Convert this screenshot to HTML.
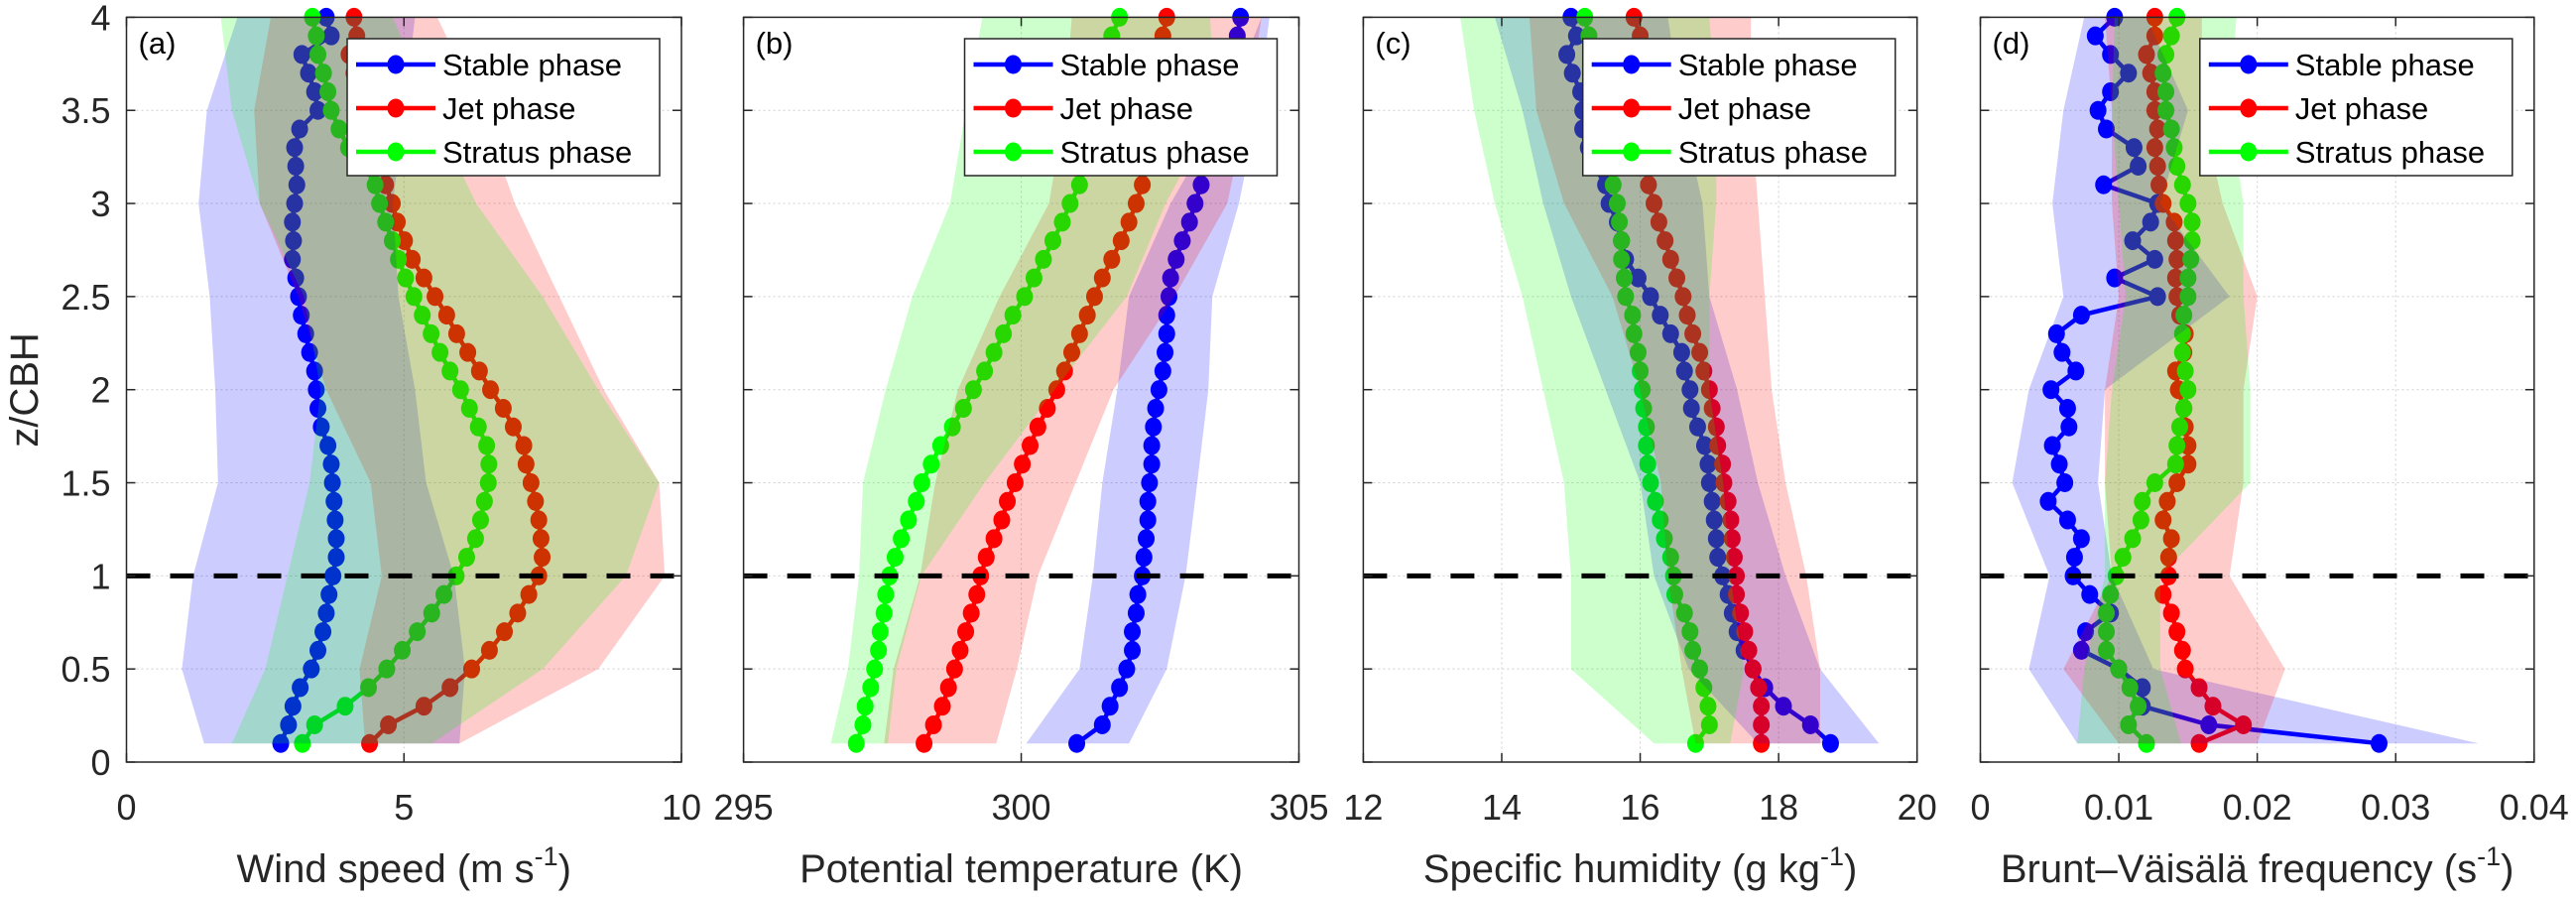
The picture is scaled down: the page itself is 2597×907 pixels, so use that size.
<!DOCTYPE html>
<html><head><meta charset="utf-8"><style>
html,body{margin:0;padding:0;background:#fff;}
svg{display:block;font-family:"Liberation Sans",sans-serif;}
</style></head><body>
<svg id="fig" width="2597" height="907" viewBox="0 0 2597 907" xmlns="http://www.w3.org/2000/svg"></svg>
<script>
// ---- data ----
const zLevels = [0.1,0.2,0.3,0.4,0.5,0.6,0.7,0.8,0.9,1.0,1.1,1.2,1.3,1.4,1.5,1.6,1.7,1.8,1.9,2.0,2.1,2.2,2.3,2.4,2.5,2.6,2.7,2.8,2.9,3.0,3.1,3.2,3.3,3.4,3.5,3.6,3.7,3.8,3.9,4.0];
const bandZ = [0.1,0.5,1.0,1.5,2.0,2.5,3.0,3.5,4.0];
const seriesNames = ["Stable phase","Jet phase","Stratus phase"];

const windStable = [2.78,2.92,3.0,3.13,3.33,3.45,3.54,3.6,3.65,3.72,3.78,3.78,3.76,3.74,3.71,3.69,3.63,3.51,3.45,3.42,3.39,3.3,3.23,3.15,3.1,3.05,2.99,3.01,2.99,3.03,3.07,3.05,3.03,3.12,3.45,3.39,3.28,3.16,3.69,3.6];
const windJet = [4.38,4.72,5.36,5.83,6.22,6.54,6.81,7.05,7.25,7.43,7.49,7.47,7.43,7.37,7.29,7.2,7.16,6.97,6.79,6.56,6.36,6.15,5.95,5.77,5.56,5.36,5.15,5.01,4.88,4.79,4.67,4.6,4.5,4.4,4.3,4.2,4.1,4.01,4.15,4.1];
const windStratus = [3.17,3.39,3.94,4.36,4.69,4.97,5.24,5.5,5.72,5.94,6.13,6.29,6.38,6.45,6.52,6.53,6.49,6.34,6.18,6.02,5.83,5.65,5.49,5.33,5.18,5.03,4.9,4.79,4.67,4.56,4.48,4.3,4.0,3.83,3.69,3.63,3.55,3.45,3.42,3.35];
const windStableLo = [1.4,1.0,1.2,1.65,1.6,1.5,1.3,1.45,2.0];
const windStableHi = [6.0,6.1,5.9,5.4,5.2,4.9,4.8,5.0,5.2];
const windJetLo = [4.3,4.2,4.6,4.4,3.6,3.1,2.4,2.3,2.6];
const windJetHi = [6.0,8.5,9.7,9.6,8.6,7.8,7.0,6.4,5.6];
const windStratusLo = [1.9,2.5,2.9,3.3,3.5,3.2,2.4,1.9,1.7];
const windStratusHi = [5.5,7.5,9.0,9.6,8.5,7.5,6.3,5.5,4.8];

const thStable = [301.0,301.46,301.6,301.77,301.9,302.0,302.0,302.07,302.1,302.18,302.21,302.25,302.28,302.28,302.31,302.35,302.35,302.38,302.42,302.48,302.55,302.59,302.62,302.62,302.66,302.69,302.79,302.9,303.03,303.13,303.24,303.3,303.37,303.48,303.55,303.6,303.65,303.7,303.89,303.95];
const thJet = [298.25,298.42,298.58,298.69,298.8,298.9,299.0,299.1,299.2,299.27,299.37,299.51,299.65,299.75,299.89,300.02,300.16,300.3,300.47,300.64,300.78,300.91,301.05,301.19,301.32,301.46,301.63,301.8,301.94,302.07,302.18,302.25,302.3,302.35,302.4,302.45,302.5,302.52,302.55,302.62];
const thStratus = [297.03,297.15,297.19,297.29,297.36,297.43,297.46,297.53,297.56,297.63,297.73,297.84,297.97,298.11,298.21,298.38,298.55,298.76,298.96,299.14,299.34,299.51,299.68,299.85,300.06,300.23,300.4,300.57,300.74,300.88,301.05,301.15,301.22,301.3,301.36,301.43,301.5,301.56,301.63,301.77];
const thStableLo = [300.09,301.05,301.29,301.46,301.73,301.94,302.69,303.65,304.33];
const thStableHi = [301.94,302.62,302.96,303.17,303.37,303.44,303.92,304.26,304.47];
const thJetLo = [297.53,297.7,298.18,298.45,298.86,299.61,300.5,300.78,300.91];
const thJetHi = [299.55,299.92,300.3,300.98,301.66,302.76,303.71,304.06,304.33];
const thStratusLo = [296.57,296.88,297.08,297.15,297.56,298.04,298.72,299.0,299.3];
const thStratusHi = [297.6,297.75,298.2,299.34,300.6,301.9,302.6,303.5,303.4];

const qStable = [18.75,18.46,18.07,17.8,17.63,17.5,17.4,17.33,17.27,17.19,17.12,17.1,17.07,17.04,17.0,16.98,16.93,16.83,16.74,16.72,16.64,16.6,16.44,16.29,16.15,15.97,15.79,15.73,15.67,15.55,15.5,15.34,15.25,15.17,15.17,15.14,15.02,14.94,15.08,15.0];
const qJet = [17.75,17.75,17.75,17.71,17.63,17.57,17.51,17.45,17.39,17.39,17.36,17.33,17.31,17.27,17.21,17.19,17.12,17.1,17.04,17.0,16.92,16.86,16.76,16.68,16.62,16.53,16.44,16.36,16.27,16.2,16.12,16.1,16.05,16.0,16.0,16.0,15.95,15.95,16.0,15.91];
const qStratus = [16.8,17.0,16.98,16.92,16.86,16.76,16.72,16.64,16.5,16.48,16.44,16.35,16.29,16.22,16.15,16.11,16.09,16.09,16.05,16.03,16.0,15.97,15.91,15.89,15.79,15.77,15.73,15.73,15.7,15.67,15.61,15.55,15.5,15.45,15.4,15.35,15.32,15.3,15.26,15.2];
const qStableLo = [17.7,16.7,16.2,16.0,15.5,15.0,14.6,14.3,13.9];
const qStableHi = [19.45,18.6,18.1,17.7,17.4,17.0,16.9,16.6,16.4];
const qJetLo = [16.8,16.6,16.4,16.3,16.0,15.6,14.9,14.5,14.4];
const qJetHi = [18.6,18.6,18.4,18.1,17.9,17.8,17.7,17.6,17.6];
const qStratusLo = [16.2,15.0,15.0,14.9,14.6,14.3,13.9,13.6,13.4];
const qStratusHi = [17.3,17.5,17.3,17.2,17.0,17.0,17.1,17.1,17.0];

const nStable = [0.0288,0.0165,0.0117,0.0117,0.01,0.0073,0.0076,0.0094,0.0079,0.0067,0.0068,0.0073,0.0063,0.0049,0.0061,0.0057,0.0052,0.0064,0.0063,0.0051,0.0069,0.0059,0.0055,0.0073,0.0128,0.0097,0.0126,0.011,0.0123,0.0128,0.0089,0.0114,0.0111,0.0091,0.0085,0.0094,0.0107,0.0094,0.0083,0.0097];
const nJet = [0.0158,0.019,0.0168,0.0158,0.0148,0.0146,0.0142,0.0138,0.0132,0.0136,0.0136,0.0138,0.0132,0.0135,0.0142,0.015,0.015,0.0148,0.0147,0.0143,0.0141,0.0147,0.0148,0.0144,0.0142,0.0141,0.0142,0.0141,0.014,0.0132,0.0129,0.0128,0.0126,0.0128,0.0126,0.0126,0.0123,0.012,0.0126,0.0126];
const nStratus = [0.012,0.0107,0.0114,0.0108,0.01,0.0091,0.0091,0.0091,0.0094,0.0098,0.0103,0.011,0.0116,0.0117,0.0126,0.0141,0.0142,0.0144,0.0147,0.015,0.0148,0.0146,0.0146,0.0147,0.015,0.015,0.0152,0.0153,0.0153,0.015,0.0146,0.0142,0.014,0.0138,0.0134,0.0134,0.0132,0.0134,0.0138,0.0142];
const nStableLo = [0.007,0.0035,0.005,0.0023,0.0035,0.006,0.0052,0.006,0.0075];
const nStableHi = [0.036,0.0125,0.0095,0.0085,0.009,0.018,0.013,0.015,0.012];
const nJetLo = [0.01,0.006,0.0095,0.009,0.009,0.01,0.0095,0.0095,0.009];
const nJetHi = [0.02,0.022,0.018,0.019,0.019,0.02,0.0175,0.016,0.016];
const nStratusLo = [0.007,0.0075,0.009,0.009,0.0095,0.0105,0.01,0.0095,0.0097];
const nStratusHi = [0.0145,0.013,0.013,0.0195,0.0195,0.019,0.019,0.018,0.0185];

const ticksA = [0,5,10], ticksB = [295,300,305], ticksC = [12,14,16,18,20], ticksD = [0,0.01,0.02,0.03,0.04];
const tickLabelsD = ["0","0.01","0.02","0.03","0.04"];
const zTicks = [0,0.5,1,1.5,2,2.5,3,3.5,4];
const zTickLabels = ["0","0.5","1","1.5","2","2.5","3","3.5","4"];
const cbhLevel = 1;

// ---- drawing ----
const NS = "http://www.w3.org/2000/svg";
const svg = document.getElementById('fig');
function mk(tag, attrs, parent){ const e=document.createElementNS(NS,tag); for(const k in attrs) e.setAttribute(k,attrs[k]); (parent||svg).appendChild(e); return e; }
const colors = ["#0000ff","#ff0000","#00ff00"];
const bandColors = ["#0000ff","#ff0000","#00ff00"];
const TOP=17.4, BOT=768;
function yScale(z){ return BOT - (z/4)*(BOT-TOP); }

const panels = [
 {id:"a", x0:127.5, x1:687, min:0, max:10, ticks:ticksA, labels:ticksA.map(String), series:[windStable,windJet,windStratus], lo:[windStableLo,windJetLo,windStratusLo], hi:[windStableHi,windJetHi,windStratusHi], xlabel:["Wind speed (m s","-1",")"], ylabels:true},
 {id:"b", x0:749.6, x1:1309.5, min:295, max:305, ticks:ticksB, labels:ticksB.map(String), series:[thStable,thJet,thStratus], lo:[thStableLo,thJetLo,thStratusLo], hi:[thStableHi,thJetHi,thStratusHi], xlabel:["Potential temperature (K)"], ylabels:false},
 {id:"c", x0:1374.4, x1:1932.7, min:12, max:20, ticks:ticksC, labels:ticksC.map(String), series:[qStable,qJet,qStratus], lo:[qStableLo,qJetLo,qStratusLo], hi:[qStableHi,qJetHi,qStratusHi], xlabel:["Specific humidity (g kg","-1",")"], ylabels:false},
 {id:"d", x0:1996.5, x1:2554.8, min:0, max:0.04, ticks:ticksD, labels:tickLabelsD, series:[nStable,nJet,nStratus], lo:[nStableLo,nJetLo,nStratusLo], hi:[nStableHi,nJetHi,nStratusHi], xlabel:["Brunt\u2013V\u00e4is\u00e4l\u00e4 frequency (s","-1",")"], ylabels:false}
];

panels.forEach(p=>{
  const xs = v => p.x0 + (v-p.min)/(p.max-p.min)*(p.x1-p.x0);
  const g = mk('g',{});
  
  
  p.ticks.forEach(t=>{ const l=mk('line',{x1:xs(t),x2:xs(t),y1:TOP,y2:BOT,stroke:'#d0d0d0','stroke-width':1,'stroke-dasharray':'2,3'},g);   });
  zTicks.forEach(t=>{ const l=mk('line',{x1:p.x0,x2:p.x1,y1:yScale(t),y2:yScale(t),stroke:'#d0d0d0','stroke-width':1,'stroke-dasharray':'2,3'},g);   });
  p.series.forEach((s,i)=>{
    const pts = s.map((v,k)=>xs(v).toFixed(1)+','+yScale(zLevels[k]).toFixed(1)).join(' ');
    const pl = mk('polyline',{points:pts,fill:'none',stroke:colors[i],'stroke-width':4.5,'stroke-linejoin':'round'},g);
    
    
    s.forEach((v,k)=>{ const c=mk('ellipse',{cx:xs(v),cy:yScale(zLevels[k]),rx:8.5,ry:9.5,fill:colors[i]},g);   });
  });
  p.lo.forEach((lo,i)=>{
    const hi = p.hi[i];
    const up = hi.map((v,k)=>xs(v).toFixed(1)+','+yScale(bandZ[k]).toFixed(1));
    const dn = lo.map((v,k)=>xs(v).toFixed(1)+','+yScale(bandZ[k]).toFixed(1)).reverse();
    const pg = mk('polygon',{points:up.concat(dn).join(' '),fill:bandColors[i],'fill-opacity':0.2,stroke:'none'},g);
    
    
  });
  const dl = mk('line',{x1:p.x0,x2:p.x1,y1:yScale(cbhLevel),y2:yScale(cbhLevel),stroke:'#000','stroke-width':5,'stroke-dasharray':'24,20'},g);
  
  
  const ax = mk('rect',{x:p.x0,y:TOP,width:p.x1-p.x0,height:BOT-TOP,fill:'none',stroke:'#262626','stroke-width':1.5},g);
  
  
  p.ticks.forEach((t,k)=>{
    mk('line',{x1:xs(t),x2:xs(t),y1:BOT,y2:BOT-9,stroke:'#262626','stroke-width':1.5},g);
    mk('line',{x1:xs(t),x2:xs(t),y1:TOP,y2:TOP+9,stroke:'#262626','stroke-width':1.5},g);
    const tx = mk('text',{x:xs(t),y:826,'font-size':36,'text-anchor':'middle',fill:'#262626'},g);
    tx.textContent = p.labels[k];
    
    
  });
  zTicks.forEach((t,k)=>{
    mk('line',{x1:p.x0,x2:p.x0+9,y1:yScale(t),y2:yScale(t),stroke:'#262626','stroke-width':1.5},g);
    mk('line',{x1:p.x1,x2:p.x1-9,y1:yScale(t),y2:yScale(t),stroke:'#262626','stroke-width':1.5},g);
    if(p.ylabels){
      const tx = mk('text',{x:p.x0-16,y:yScale(t)+13,'font-size':36,'text-anchor':'end',fill:'#262626'},g);
      tx.textContent = zTickLabels[k];
      
      
    }
  });
  const xl = mk('text',{x:(p.x0+p.x1)/2,y:889,'font-size':40,'text-anchor':'middle',fill:'#262626'},g);
  
  
  const t1 = mk('tspan',{},xl); t1.textContent = p.xlabel[0];
  if(p.xlabel.length>1){ const t2=mk('tspan',{'font-size':27,dy:-17},xl); t2.textContent=p.xlabel[1]; const t3=mk('tspan',{dy:17},xl); t3.textContent=p.xlabel[2]; }
  const pl = mk('text',{x:p.x0+12,y:54,'font-size':31,fill:'#000'},g);
  pl.textContent = '('+p.id+')';
  
  
  const lx = p.x1-22-315, ly = 39;
  const lg = mk('g',{},g);
  
  
  mk('rect',{x:lx,y:ly,width:315,height:138,fill:'#fff',stroke:'#262626','stroke-width':1.5},lg);
  seriesNames.forEach((n,i)=>{
    const yy = ly+26+i*44;
    const e = mk('g',{},lg);
    
    
    mk('line',{x1:lx+9,x2:lx+89,y1:yy,y2:yy,stroke:colors[i],'stroke-width':4.5},e);
    mk('ellipse',{cx:lx+49,cy:yy,rx:8.5,ry:9.5,fill:colors[i]},e);
    const tt = mk('text',{x:lx+96,y:yy+11,'font-size':31,fill:'#000'},e);
    tt.textContent = n;
  });
});
const yl = mk('text',{x:0,y:0,'font-size':40,'text-anchor':'middle',fill:'#262626',transform:'translate(38,393) rotate(-90)'});
yl.textContent='z/CBH';


</script>
</body></html>
